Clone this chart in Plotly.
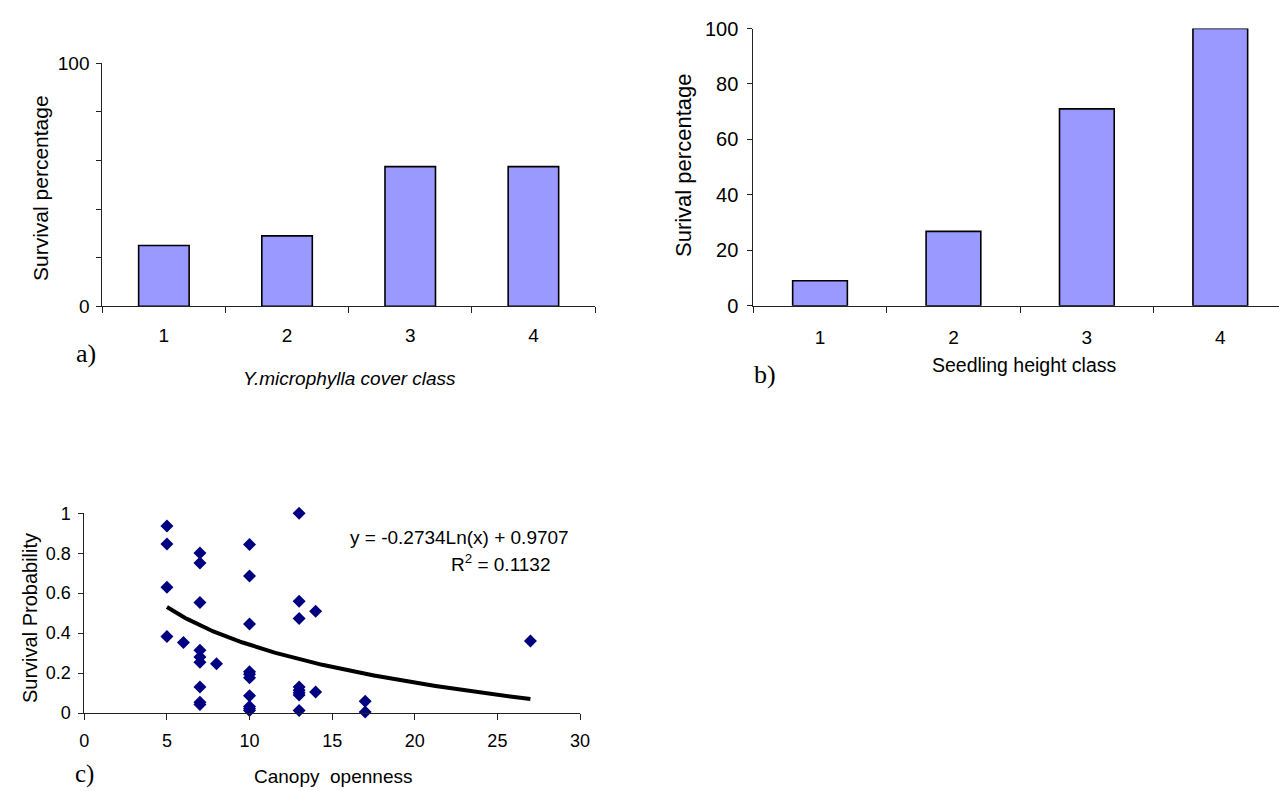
import numpy as np
import plotly.graph_objects as go

# ---------------- data ----------------
cover_classes = ["1", "2", "3", "4"]
cover_survival = [25, 29, 57.5, 57.5]

height_classes = ["1", "2", "3", "4"]
height_survival = [9, 26.8, 71, 100]

canopy_openness = [5, 5, 5, 5,
                   6,
                   7, 7, 7, 7, 7, 7, 7, 7, 7,
                   8,
                   10, 10, 10, 10, 10, 10, 10, 10, 10, 10,
                   13, 13, 13, 13, 13, 13, 13, 13,
                   14, 14,
                   17, 17,
                   27]
survival_prob = [0.936, 0.846, 0.630, 0.383,
                 0.353,
                 0.801, 0.751, 0.553, 0.314, 0.281, 0.254, 0.130, 0.054, 0.042,
                 0.247,
                 0.844, 0.686, 0.446, 0.206, 0.194, 0.176, 0.087, 0.033, 0.022, 0.013,
                 1.0, 0.560, 0.473, 0.130, 0.114, 0.102, 0.090, 0.013,
                 0.510, 0.105,
                 0.059, 0.005,
                 0.360]

fit_slope = -0.2734
fit_intercept = 0.9707
fit_x_range = [5, 27]

# ---------------- layout helpers ----------------
W, H = 1279, 791
SANS = "Arial, Liberation Sans, sans-serif"
SERIF = "Times New Roman, Liberation Serif, serif"
BAR_FILL = "#9999FF"
AXIS_COL = "#222222"


def dom_x(left, right):
    return [left / W, right / W]


def dom_y(top, bottom):
    return [1 - bottom / H, 1 - top / H]


fig = go.Figure()

# Panel a
fig.add_trace(go.Bar(x=cover_classes, y=cover_survival, xaxis="x", yaxis="y",
                     marker=dict(color=BAR_FILL, line=dict(color="black", width=1.6)),
                     showlegend=False))
# Panel b
fig.add_trace(go.Bar(x=height_classes, y=height_survival, xaxis="x2", yaxis="y2",
                     marker=dict(color=BAR_FILL, line=dict(color="black", width=1.6)),
                     showlegend=False))
# Panel c scatter
fig.add_trace(go.Scatter(x=canopy_openness, y=survival_prob, xaxis="x3", yaxis="y3",
                         mode="markers", cliponaxis=False,
                         marker=dict(symbol="diamond", color="#000080", size=10),
                         showlegend=False))
# Trend line
fx = np.linspace(fit_x_range[0], fit_x_range[1], 200)
fy = fit_slope * np.log(fx) + fit_intercept
fig.add_trace(go.Scatter(x=fx, y=fy, xaxis="x3", yaxis="y3", mode="lines",
                         line=dict(color="black", width=4), showlegend=False))

common_axis = dict(showline=True, linecolor=AXIS_COL, linewidth=1, showgrid=False,
                   zeroline=False, ticks="outside", tickcolor=AXIS_COL, ticklen=5,
                   tickwidth=1, mirror=False, automargin=False)

fig.update_layout(
    template="none",
    width=W, height=H, autosize=False,
    margin=dict(l=0, r=0, t=0, b=0, pad=0),
    paper_bgcolor="white", plot_bgcolor="white",
    bargap=0.59,
    font=dict(family=SANS, color="black", size=19),
    xaxis=dict(common_axis, domain=dom_x(102.3, 595), anchor="y", type="category",
               range=[-0.5, 3.5], tickson="boundaries", ticklen=6,
               ticklabelstandoff=12, tickfont=dict(size=19)),
    yaxis=dict(common_axis, domain=dom_y(63.3, 306.3), anchor="x",
               range=[0, 100], tickvals=[0, 100], ticktext=["0", "100"],
               ticklabelstandoff=3, tickfont=dict(size=19),
               minor=dict(tickvals=[20, 40, 60, 80], ticks="outside", ticklen=5,
                          tickcolor=AXIS_COL, tickwidth=1, showgrid=False)),
    xaxis2=dict(common_axis, domain=dom_x(753.3, 1279), anchor="y2", type="category",
                range=[-0.5, 3.44], tickson="boundaries", ticklen=6,
                ticklabelstandoff=14, tickfont=dict(size=19)),
    yaxis2=dict(common_axis, domain=dom_y(28.5, 305.7), anchor="x2",
                range=[0, 100], tickvals=[0, 20, 40, 60, 80, 100],
                ticklabelstandoff=5, tickfont=dict(size=20)),
    xaxis3=dict(common_axis, domain=dom_x(84.3, 580), anchor="y3",
                range=[0, 30], tickvals=[0, 5, 10, 15, 20, 25, 30], ticklen=6,
                ticklabelstandoff=5, tickfont=dict(size=18)),
    yaxis3=dict(common_axis, domain=dom_y(513.3, 713), anchor="x3",
                range=[0, 1], tickvals=[0, 0.2, 0.4, 0.6, 0.8, 1],
                ticktext=["0", "0.2", "0.4", "0.6", "0.8", "1"],
                ticklabelstandoff=4, tickfont=dict(size=18)),
)

ann = []


def add_text(text, x, y, size=17, family=SANS, angle=0, italic=False, xanchor="center"):
    if italic:
        text = "<i>" + text + "</i>"
    ann.append(dict(text=text, x=x / W, y=1 - y / H, xref="paper", yref="paper",
                    showarrow=False, textangle=angle, xanchor=xanchor, yanchor="middle",
                    font=dict(family=family, size=size, color="black")))


add_text("Survival percentage", 40, 188, size=21, angle=-90)
add_text("Y.microphylla cover class", 349, 378, size=19, italic=True)
add_text("a)", 86, 353, size=26, family=SERIF)

add_text("Surival percentage", 683, 166, size=22, angle=-90)
add_text("Seedling height class", 1024, 365, size=19.5)
add_text("b)", 765, 374, size=26, family=SERIF)

add_text("Survival Probability", 30, 618, size=20, angle=-90)
add_text("Canopy  openness", 333, 776, size=19)
add_text("c)", 84, 774, size=25, family=SERIF)
add_text("y = -0.2734Ln(x) + 0.9707", 459, 537, size=19)
add_text("R<sup>2</sup> = 0.1132", 501, 563, size=19)

fig.update_layout(annotations=ann)

fig.write_html("out.html", config={"responsive": False},
               post_script="document.body.style.margin='0';document.body.style.overflow='hidden';")
